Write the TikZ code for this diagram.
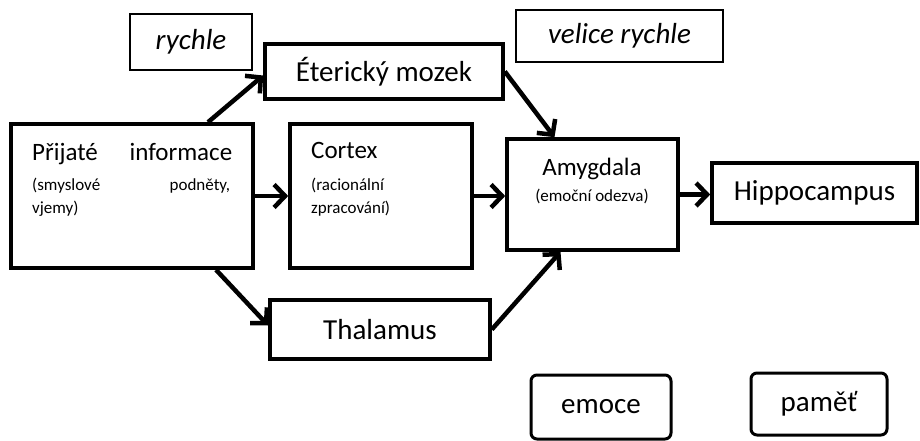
\documentclass[tikz,border=0pt]{standalone}
\usepackage{fontspec}
\setmainfont{Carlito}
\usepackage{tikz}
\usetikzlibrary{arrows.meta}

\begin{document}
\begin{tikzpicture}[x=1pt, y=-1pt,
    mainbox/.style = {draw, line width=3.6pt, inner sep=0pt, font=\fontsize{29}{34}\selectfont},
    notebox/.style = {draw, line width=2pt, inner sep=0pt, font=\fontsize{29}{34}\selectfont\itshape},
    tagbox/.style = {draw, line width=3pt, rounded corners=6pt, inner sep=0pt, font=\fontsize{29}{34}\selectfont},
    headtext/.style = {inner sep=0pt, anchor=base west, font=\fontsize{25}{30}\selectfont},
    subtext/.style = {inner sep=0pt, anchor=base west, font=\fontsize{17}{24}\selectfont},
    arr/.style = {line width=4.5pt, -{Straight Barb[length=11pt,width=23pt]}}]
    \useasboundingbox (0,0) rectangle (920,441);

    % boxes
    \node[mainbox, minimum width=242pt, minimum height=144pt] (info) at (132,196) {};
    \node[mainbox, minimum width=182pt, minimum height=144pt] (cortex) at (381,196) {};
    \node[mainbox, minimum width=171pt, minimum height=111pt] (amyg) at (592.5,194.5) {};
    \node[mainbox, minimum width=205pt, minimum height=60pt] (hippo) at (814.5,193) {Hippocampus};
    \node[mainbox, minimum width=238pt, minimum height=55pt] (eter) at (384,71.5) {Éterický mozek};
    \node[mainbox, minimum width=220pt, minimum height=59pt] (thal) at (380,329.5) {Thalamus};

    \node[notebox, minimum width=122pt, minimum height=56pt] (fast) at (191,42) {rychle};
    \node[notebox, minimum width=207pt, minimum height=52pt] (veryfast) at (619.5,36) {velice rychle};

    \node[tagbox, minimum width=140pt, minimum height=64pt] (emoce) at (601,407) {emoce};
    \node[tagbox, minimum width=136pt, minimum height=62pt] (pamet) at (819,404) {paměť};

    % texts inside the big boxes
    \node[headtext, text width=200pt] (infohead) at (32,160) {Přijaté\hfill informace};
    \node[subtext, text width=198pt] (infosub) at (32,190) {(smyslové\hfill podněty,};
    \node[subtext] (infosubb) at (32,213) {vjemy)};

    \node[headtext] (cortexhead) at (311,158) {Cortex};
    \node[subtext] (cortexsub) at (311,190) {(racionální};
    \node[subtext] (cortexsubb) at (311,213) {zpracování)};

    \node[headtext, anchor=base] (amyghead) at (592,175) {Amygdala};
    \node[subtext, anchor=base] (amygsub) at (592,201) {(emoční odezva)};

    % arrows
    \draw[arr] ([xshift=76pt]info.north) -- ([yshift=-4pt]eter.west);
    \draw[arr] (info.east) -- (info.east -| cortex.west);
    \draw[arr] ([xshift=84pt]info.south) -- ([yshift=4pt]thal.west);
    \draw[arr] (eter.east) -- ([xshift=-38pt]amyg.north);
    \draw[arr] (cortex.east) -- (cortex.east -| amyg.west);
    \draw[arr] (thal.east) -- ([xshift=-32pt]amyg.south);
    \draw[arr] (amyg.east) -- (amyg.east -| hippo.west);
\end{tikzpicture}
\end{document}
